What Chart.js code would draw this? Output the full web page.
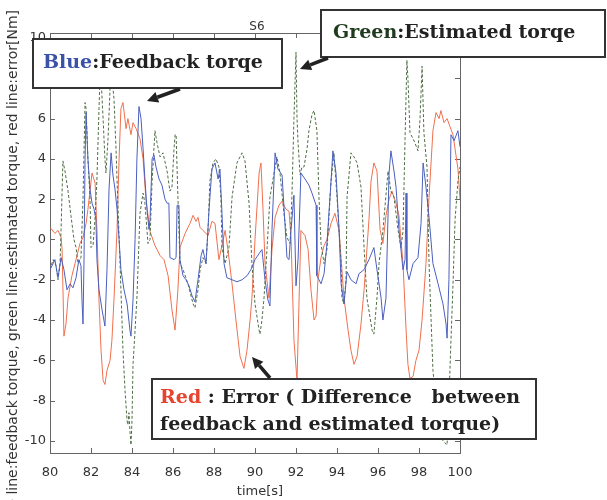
<!DOCTYPE html>
<html lang="en">
<head>
  <meta charset="UTF-8" />
  <title>S6 torque</title>
  <script src="https://cdn.jsdelivr.net/npm/chart.js"></script>
  <style>
    html, body { margin: 0; padding: 0; background: #fff; }
    #wrap { width: 607px; height: 500px; }
  </style>
</head>
<body>
  <div id="wrap"><canvas id="torqueChart"></canvas></div>

  <script>
    // tick labels
    const xTicks = [80, 82, 84, 86, 88, 90, 92, 94, 96, 98, 100];
    const yTicks = [-10, -8, -6, -4, -2, 0, 2, 4, 6, 8, 10];

    // blue: feedback torque [Nm]
    const blueTime = [
      80.00, 80.15, 80.24, 80.39, 80.54, 80.68, 80.83, 80.98, 81.12, 81.27,
      81.41, 81.51, 81.56, 81.61, 81.66, 81.71, 81.76, 81.85, 81.95, 82.05,
      82.15, 82.24, 82.29, 82.39, 82.54, 82.68, 82.78, 82.88, 82.98, 83.07,
      83.17, 83.27, 83.37, 83.46, 83.61, 83.76, 83.90, 83.95, 84.05, 84.15,
      84.24, 84.34, 84.44, 84.54, 84.63, 84.73, 84.83, 84.88, 84.98, 85.07,
      85.17, 85.32, 85.46, 85.61, 85.71, 85.80, 85.85, 86.05, 86.15, 86.20,
      86.29, 86.34, 86.49, 86.63, 86.78, 86.93, 87.07, 87.22, 87.37, 87.46,
      87.61, 87.76, 87.90, 88.05, 88.20, 88.29, 88.39, 88.49, 88.63, 88.88,
      89.12, 89.37, 89.61, 89.80, 90.00, 90.20, 90.34, 90.49, 90.63, 90.73,
      90.83, 90.98, 91.12, 91.32, 91.46, 91.56, 91.66, 91.76, 91.90, 92.00,
      92.10, 92.24, 92.44, 92.63, 92.78, 92.98, 93.02, 93.22, 93.37, 93.51,
      93.71, 93.80, 93.95, 94.10, 94.20, 94.34, 94.49, 94.68, 94.93, 95.07,
      95.32, 95.56, 95.80, 95.95, 96.15, 96.24, 96.39, 96.54, 96.63, 96.78,
      96.88, 97.02, 97.22, 97.32, 97.37, 97.41, 97.51, 97.71, 97.95, 98.10,
      98.20, 98.34, 98.49, 98.68, 98.93, 99.17, 99.32, 99.37, 99.46, 99.56,
      99.71, 99.90, 100.00
    ];
    const blueTorque = [
      -1.5, -1.2, -1.0, -1.9, -0.9, -1.5, -2.5, -2.2, -2.4, -1.9,
      -1.0, -1.3, -3.0, -4.2, -1.0, 4.0, 6.3, 4.0, 2.5, 1.8,
      1.5, 1.0, -1.0, -2.5, -3.5, -4.3, -1.5, 2.5, 4.3, 3.2,
      2.5, 1.5, 0.0, -1.5, -2.5, -3.2, -4.5, -4.8, -3.0, 0.0,
      4.0, 6.6, 6.0, 4.5, 3.0, 1.5, 0.5, 1.0, 4.0, 4.2,
      3.6, 3.0, 2.7, 2.0, 1.8, 1.8, -0.9, -1.0, -0.9, 1.7,
      1.7, -1.0, -1.8, -2.0, -2.3, -2.8, -3.1, -2.0, -0.8, -0.5,
      -1.2, 1.5, 3.5, 3.8, 3.0, 3.5, 1.3, -1.2, -1.9, -2.0,
      -2.1, -2.0, -1.8, -1.5, -1.0, -0.7, -0.5, -2.0, -3.0, -3.3,
      0.5, 4.3, 3.5, 3.2, 0.8, -0.9, -1.0, 0.5, 2.2, -2.3,
      -1.0, 3.3, 3.0, 2.7, 2.3, 1.7, -1.8, -2.2, -1.7, -0.2,
      2.9, 4.4, 3.3, 0.5, -2.2, -3.2, -1.6, -2.0, -2.2, -1.7,
      -1.5, -1.0, -0.4, -1.5, -2.9, -4.0, -2.9, 3.3, 4.4, 3.4,
      2.6, 0.5, -1.5, -1.0, 2.3, -1.5, -2.0, -1.2, -0.9, 0.8,
      3.8, 2.6, 1.1, -1.2, -2.2, -3.2, -4.2, -4.9, -2.0, 5.2,
      4.9, 5.4, 4.6
    ];

    // green: estimated torque [Nm]
    const greenTime = [
      80.00, 80.15, 80.29, 80.39, 80.49, 80.54, 80.63, 80.73, 80.88, 81.02,
      81.17, 81.27, 81.37, 81.51, 81.61, 81.71, 81.76, 81.85, 81.95, 82.00,
      82.10, 82.20, 82.29, 82.39, 82.44, 82.49, 82.59, 82.68, 82.73, 82.83,
      82.93, 83.02, 83.12, 83.22, 83.32, 83.41, 83.46, 83.56, 83.66, 83.76,
      83.80, 83.85, 83.90, 83.95, 84.00, 84.05, 84.15, 84.24, 84.39, 84.54,
      84.63, 84.78, 84.88, 84.98, 85.12, 85.22, 85.37, 85.51, 85.71, 85.85,
      85.95, 86.05, 86.10, 86.15, 86.24, 86.34, 86.49, 86.73, 86.98, 87.07,
      87.22, 87.32, 87.46, 87.61, 87.71, 87.80, 87.95, 88.10, 88.24, 88.34,
      88.39, 88.54, 88.73, 88.88, 89.12, 89.37, 89.51, 89.71, 89.85, 90.00,
      90.20, 90.24, 90.34, 90.44, 90.59, 90.73, 90.93, 91.07, 91.22, 91.41,
      91.56, 91.71, 91.80, 91.90, 92.00, 92.05, 92.10, 92.20, 92.29, 92.39,
      92.54, 92.63, 92.78, 92.88, 93.02, 93.12, 93.22, 93.37, 93.51, 93.71,
      93.85, 94.00, 94.20, 94.24, 94.34, 94.44, 94.49, 94.68, 94.83, 94.98,
      95.17, 95.32, 95.46, 95.71, 95.80, 95.95, 96.05, 96.24, 96.49, 96.63,
      96.78, 96.98, 97.12, 97.22, 97.32, 97.41, 97.46, 97.56, 97.71, 97.80,
      97.95, 98.05, 98.15, 98.24, 98.39, 98.49, 98.59, 98.68, 98.83, 99.02,
      99.17, 99.37, 99.46, 99.56, 99.66, 99.76, 99.90, 100.00
    ];
    const greenTorque = [
      -1.5, -1.0, -1.3, -2.0, -1.2, 0.5, 3.9, 3.4, 2.4, 1.2,
      0.0, -0.4, -1.2, -0.9, 2.0, 6.8, 6.5, 4.0, 2.1, -0.4,
      -0.3, 1.1, 3.0, 6.5, 8.0, 8.0, 6.0, 4.0, 3.3, 5.0,
      7.5, 8.0, 7.0, 4.5, 1.5, -1.0, -2.5, -5.5, -7.5, -9.0,
      -9.2, -8.6, -9.5, -10.2, -9.0, -6.2, -4.5, -2.9, 1.3, 2.3,
      1.8, -0.2, 0.0, 2.9, 5.4, 4.8, 4.1, 4.3, 3.4, 2.4,
      2.6, 4.5, 5.2, 5.2, 2.1, -1.2, -1.5, -2.2, -3.2, -3.4,
      -2.5, -1.5, -0.9, -1.2, 0.5, 2.9, 3.8, 4.0, 3.6, 2.0,
      -0.4, -1.2, -0.4, 2.1, 3.8, 4.3, 3.9, 1.8, -1.2, -3.2,
      -4.5, -4.7, -4.0, -2.9, -0.4, 2.1, 3.3, 4.1, 3.3, 1.3,
      0.1, -0.2, 2.1, 6.0, 9.3, 6.0, 4.8, 3.2, 3.6, 3.6,
      4.5, 5.4, 6.2, 6.4, 5.4, 2.1, -0.2, -1.2, -0.5, 2.9,
      4.3, 2.1, -1.2, -2.9, -3.2, -2.0, 2.1, 4.3, 4.1, 3.8,
      2.6, -0.4, -2.9, -4.5, -4.7, -2.9, -1.2, 0.45, 3.4, 2.4,
      2.1, 0.45, -0.4, 0.4, 5.0, 8.9, 8.0, 5.3, 5.0, 4.8,
      4.4, 6.0, 8.6, 5.3, 3.6, -1.2, -4.0, -6.5, -8.0, -9.5,
      -10.0, -10.2, -8.0, -5.0, -2.2, 1.0, 2.9, 3.6
    ];

    // red: error (feedback - estimated) [Nm]
    const redTime = [
      80.00, 80.24, 80.39, 80.54, 80.59, 80.68, 80.78, 80.88, 81.07, 81.22,
      81.46, 81.61, 81.76, 81.85, 82.05, 82.20, 82.29, 82.39, 82.49, 82.59,
      82.68, 82.78, 82.93, 83.02, 83.12, 83.27, 83.37, 83.46, 83.56, 83.71,
      83.80, 83.95, 84.05, 84.20, 84.39, 84.54, 84.68, 84.88, 85.12, 85.37,
      85.56, 85.76, 85.95, 86.10, 86.24, 86.34, 86.59, 86.83, 86.98, 87.12,
      87.22, 87.32, 87.46, 87.71, 87.90, 88.05, 88.24, 88.39, 88.54, 88.68,
      88.88, 89.07, 89.27, 89.46, 89.61, 89.76, 89.85, 90.00, 90.20, 90.29,
      90.39, 90.49, 90.68, 90.83, 90.98, 91.17, 91.32, 91.51, 91.66, 91.76,
      91.90, 92.05, 92.15, 92.24, 92.44, 92.59, 92.73, 92.88, 92.98, 93.07,
      93.22, 93.37, 93.51, 93.71, 93.90, 94.10, 94.24, 94.34, 94.54, 94.68,
      94.83, 94.98, 95.17, 95.32, 95.41, 95.56, 95.66, 95.80, 95.95, 96.10,
      96.24, 96.39, 96.54, 96.68, 96.88, 97.02, 97.22, 97.37, 97.46, 97.56,
      97.71, 97.85, 98.00, 98.15, 98.34, 98.49, 98.68, 98.83, 98.98, 99.07,
      99.22, 99.37, 99.51, 99.66, 99.80, 99.90, 100.00
    ];
    const redError = [
      0.6, 0.3, 0.45, 0.1, -0.5, -4.8, -4.2, -2.9, -1.8, -1.2,
      -0.2, 0.1, 0.8, 1.5, 3.3, 2.8, 0.5, -3.0, -5.5, -7.0,
      -7.2, -6.5, -6.0, -5.0, -3.0, 0.5, 4.0, 6.5, 6.8, 5.5,
      6.0, 5.2, 5.8, 5.5, 5.0, 4.0, 2.0, 0.4, -0.3, -0.8,
      -1.0, -1.8, -3.5, -4.5, -2.5, -0.4, 0.3, 0.8, 1.2, 0.9,
      1.1, 0.6, 0.45, 0.2, 0.9, 0.8, -1.0, -0.3, 0.45, -0.5,
      -2.2, -4.0, -5.8, -6.4, -5.5, -4.0, -2.9, 0.0, 3.3, 3.8,
      1.5, -1.2, -2.9, -0.5, 1.1, 1.7, 1.9, 1.5, 1.4, 0.0,
      -5.0, -7.0, -3.0, 0.45, 0.2, -0.5, -2.5, -4.0, -3.8, -2.0,
      -0.9, -0.3, 0.0, 0.8, 1.3, 0.45, -1.5, -2.9, -4.5, -5.5,
      -6.2, -5.8, -4.2, -2.5, -1.2, 1.0, 2.9, 3.8, 3.4, 0.5,
      -0.2, 1.2, 2.0, 2.4, 1.8, 1.2, -1.2, -4.5, -6.2, -6.9,
      -6.8, -6.0, -5.5, -4.0, -1.2, 2.1, 5.4, 6.3, 6.0, 6.4,
      5.8, 6.0, 5.6, 5.2, 4.2, 3.5, 2.0
    ];

    const toPoints = (ts, vs) => ts.map((t, i) => ({ x: t, y: vs[i] }));

    // axis box with inward tick marks on all four sides
    const frame = {
      id: 'frame',
      beforeDatasetsDraw(chart) {
        const { ctx, chartArea: a, scales: { x, y } } = chart;
        ctx.save();
        ctx.strokeStyle = '#666';
        ctx.lineWidth = 1;
        ctx.strokeRect(a.left + 0.5, a.top + 0.5, a.right - a.left, a.bottom - a.top);
        ctx.beginPath();
        xTicks.forEach(v => {
          const px = Math.round(x.getPixelForValue(v)) + 0.5;
          ctx.moveTo(px, a.bottom); ctx.lineTo(px, a.bottom - 5);
          ctx.moveTo(px, a.top); ctx.lineTo(px, a.top + 5);
        });
        yTicks.forEach(v => {
          const py = Math.round(y.getPixelForValue(v)) + 0.5;
          ctx.moveTo(a.left, py); ctx.lineTo(a.left + 5, py);
          ctx.moveTo(a.right, py); ctx.lineTo(a.right - 5, py);
        });
        ctx.stroke();
        ctx.restore();
      }
    };

    function arrow(ctx, x1, y1, x2, y2) {
      const ang = Math.atan2(y2 - y1, x2 - x1);
      const hl = 11, hw = 5.5;
      const bx = x2 - hl * Math.cos(ang), by = y2 - hl * Math.sin(ang);
      ctx.strokeStyle = '#222';
      ctx.fillStyle = '#222';
      ctx.lineWidth = 3.5;
      ctx.beginPath();
      ctx.moveTo(x1, y1); ctx.lineTo(bx, by);
      ctx.stroke();
      ctx.beginPath();
      ctx.moveTo(x2, y2);
      ctx.lineTo(bx + hw * Math.sin(ang), by - hw * Math.cos(ang));
      ctx.lineTo(bx - hw * Math.sin(ang), by + hw * Math.cos(ang));
      ctx.closePath();
      ctx.fill();
    }

    function box(ctx, x, y, w, h) {
      ctx.fillStyle = '#fff';
      ctx.fillRect(x, y, w, h);
      ctx.strokeStyle = '#333';
      ctx.lineWidth = 2;
      ctx.strokeRect(x, y, w, h);
    }

    // draws [text, colour] pieces one after another
    function pieces(ctx, x, y, parts) {
      parts.forEach(([t, c]) => {
        ctx.fillStyle = c;
        ctx.fillText(t, x, y);
        x += ctx.measureText(t).width;
      });
    }

    const notes = {
      id: 'notes',
      afterDraw(chart) {
        const { ctx } = chart;
        ctx.save();
        ctx.textBaseline = 'middle';

        ctx.fillStyle = '#333';
        ctx.font = '12px "DejaVu Sans"';
        ctx.textAlign = 'center';
        ctx.fillText('S6', 257, 27);
        ctx.font = '13px "DejaVu Sans"';
        ctx.fillText('time[s]', 260, 492);

        ctx.save();
        ctx.translate(13, 10);
        ctx.rotate(-Math.PI / 2);
        ctx.textAlign = 'right';
        ctx.font = '14px "DejaVu Sans"';
        ctx.fillText('blue line:feedback torque, green line:estimated torque, red line:error[Nm]', 0, 0);
        ctx.restore();

        ctx.textAlign = 'left';
        ctx.font = 'bold 19px "DejaVu Serif"';

        box(ctx, 33, 39, 249, 49);
        pieces(ctx, 43, 63, [['Blue', '#3a52a8'], [':Feedback torqe', '#222']]);
        arrow(ctx, 180, 89, 147, 101);

        box(ctx, 321, 10, 284, 47);
        pieces(ctx, 333, 33, [['Green', '#1f3a1f'], [':Estimated torqe', '#222']]);
        arrow(ctx, 328, 58, 300, 69);

        box(ctx, 152, 379, 384, 60);
        pieces(ctx, 160, 398, [['Red', '#e8432e'], [' : Error ( Difference   between', '#222']]);
        pieces(ctx, 160, 425, [['feedback and estimated torque)', '#222']]);
        arrow(ctx, 270, 378, 252, 357);

        ctx.restore();
      }
    };

    const ctx = document.getElementById('torqueChart').getContext('2d');
    const chart = new Chart(ctx, {
      type: 'line',
      data: {
        datasets: [
          {
            label: 'feedback torque',
            data: toPoints(blueTime, blueTorque),
            borderColor: '#4a5fbf',
            borderWidth: 1
          },
          {
            label: 'estimated torque',
            data: toPoints(greenTime, greenTorque),
            borderColor: '#4f6e45',
            borderWidth: 1,
            borderDash: [3, 2]
          },
          {
            label: 'error',
            data: toPoints(redTime, redError),
            borderColor: '#f0704e',
            borderWidth: 1
          }
        ]
      },
      options: {
        responsive: true,
        maintainAspectRatio: false,
        animation: false,
        layout: { padding: { left: 0, right: 147, top: 33, bottom: 0 } },
        elements: { point: { radius: 0 }, line: { tension: 0 } },
        plugins: { legend: { display: false }, tooltip: { enabled: false } },
        scales: {
          x: {
            type: 'linear',
            min: 80,
            max: 100,
            afterBuildTicks: s => { s.ticks = xTicks.map(v => ({ value: v })); },
            afterFit: s => { s.height = 47; },
            grid: { display: false, drawTicks: false },
            border: { display: false },
            ticks: { color: '#333', font: { family: 'DejaVu Sans', size: 13 }, padding: 12, maxRotation: 0 }
          },
          y: {
            min: -10.6,
            max: 10.25,
            afterBuildTicks: s => { s.ticks = yTicks.map(v => ({ value: v })); },
            afterFit: s => { s.width = 50; },
            grid: { display: false, drawTicks: false },
            border: { display: false },
            ticks: { color: '#333', font: { family: 'DejaVu Sans', size: 13 }, padding: 4 }
          }
        }
      },
      plugins: [frame, notes]
    });
  </script>
</body>
</html>
